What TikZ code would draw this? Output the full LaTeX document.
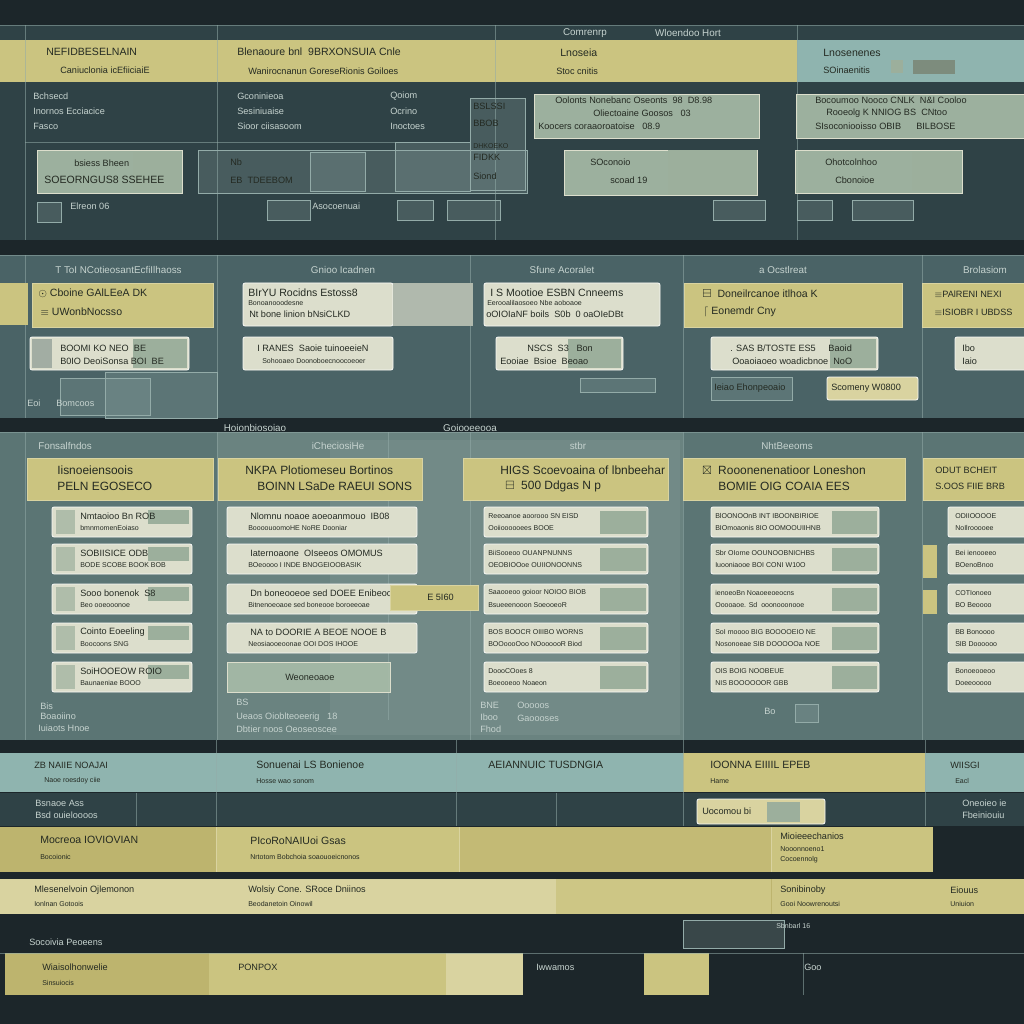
\documentclass[tikz,border=0pt]{standalone}
\usepackage{amssymb}
\usepackage{fontspec}
\setmainfont{Liberation Sans}
\definecolor{bgdark}{HTML}{1C262A}
\definecolor{panelA}{HTML}{2F4246}
\definecolor{panelB}{HTML}{4A6366}
\definecolor{panelC}{HTML}{5B7574}
\definecolor{panelCc}{HTML}{6A8380}
\definecolor{ygold}{HTML}{CBC480}
\definecolor{yolive}{HTML}{BDB46E}
\definecolor{ylight}{HTML}{D9D3A0}
\definecolor{tealbar}{HTML}{8FB4AF}
\definecolor{cream}{HTML}{DCDECC}
\definecolor{greenbox}{HTML}{A8BCA8}
\definecolor{gblock}{HTML}{9CAF9C}
\definecolor{gridline}{HTML}{93ABA8}
\definecolor{txtdark}{HTML}{242A22}
\definecolor{txtlight}{HTML}{C6D3CF}
\tikzset{
  hdr/.style={font=\fontsize{7.5}{8}\selectfont, text=txtdark, anchor=west, inner sep=0pt},
  bighdr/.style={hdr, font=\fontsize{8.5}{9}\selectfont},
  sub/.style={font=\fontsize{6.5}{7}\selectfont, text=txtdark, anchor=west, inner sep=0pt},
  tiny/.style={font=\fontsize{5}{6}\selectfont, text=txtdark, anchor=west, inner sep=0pt},
  lab/.style={font=\fontsize{6.5}{7}\selectfont, text=txtlight, anchor=west, inner sep=0pt},
  ttl/.style={font=\fontsize{7}{8}\selectfont, text=txtlight, inner sep=0pt},
  gline/.style={draw=gridline, opacity=.55, line width=.5pt},
  ybox/.style={fill=ygold, draw=ylight, line width=.6pt},
  cbox/.style={fill=cream, draw=white!80!cream, rounded corners=1.5pt, line width=.6pt},
  gbox/.style={fill=greenbox, draw=cream, line width=.6pt, fill opacity=.9},
  ghost/.style={draw=gridline, fill=gridline, fill opacity=.25, line width=.5pt}
}
\begin{document}
\begin{tikzpicture}[x=0.25mm, y=-0.25mm]
\useasboundingbox (0,0) rectangle (1024,1024);
\fill[bgdark] (0,0) rectangle (1024,1024);

% ---- row 1
\fill[panelA] (0,25) rectangle (1024,240);
\fill[ygold] (0,40) rectangle (797,82);
\fill[tealbar] (797,40) rectangle (1024,82);
\draw[gline] (0,25) -- (1024,25);
\foreach \x in {25,217,495,797} \draw[gline] (\x,25) -- (\x,240);
\draw[gline] (25,142) -- (470,142);
\node[ttl] at (585,33) {Comrenrp};
\node[ttl] at (688,33) {Wloendoo Hort};
\node[hdr] at (46,52) {NEFIDBESELNAIN};
\node[sub] at (60,70) {Caniuclonia icEfiiciaiE};
\node[hdr] at (237,52) {Blenaoure bnl\ \ 9BRXONSUIA Cnle};
\node[sub] at (248,71) {Wanirocnanun GoreseRionis Goiloes};
\node[hdr] at (560,53) {Lnoseia};
\node[sub] at (556,71) {Stoc cnitis};
\node[hdr] at (823,53) {Lnosenenes};
\node[sub] at (823,70) {SOinaenitis};
\fill[gblock] (891,60) rectangle (903,73);
\fill[gblock!80!black] (913,60) rectangle (955,74);
\node[lab] at (33,96) {Bchsecd};
\node[lab] at (33,111) {Inornos Ecciacice};
\node[lab] at (33,126) {Fasco};
\node[lab] at (237,96) {Gconinieoa};
\node[lab] at (237,111) {Sesiniuaise};
\node[lab] at (237,126) {Sioor ciisasoom};
\node[lab] at (390,96) {Qoiom};
\node[lab] at (390,111) {Ocrino};
\node[lab] at (390,126) {Inoctoes};
\draw[gbox] (37,150) rectangle (182,193);
\fill[gblock] (133,152) rectangle (180,191);
\node[sub] at (74,163) {bsiess Bheen};
\node[hdr] at (44,180) {SOEORNGUS8\ SSEHEE};
\draw[ghost] (198,150) rectangle (527,193);
\draw[ghost] (310,152) rectangle (365,191);
\draw[ghost] (395,142) rectangle (470,191);
\node[sub] at (230,162) {Nb};
\node[sub] at (230,180) {EB\ \ TDEEBOM};
\draw[ghost] (470,98) rectangle (525,190);
\node[sub] at (473,106) {BSLSSI};
\node[sub] at (473,123) {BBOB};
\node[tiny] at (473,146) {DHKOEKO};
\node[sub] at (473,157) {FIDKK};
\node[sub] at (473,176) {Siond};
\draw[gbox] (534,94) rectangle (759,138);
\node[sub] at (555,100) {Oolonts Nonebanc Oseonts\ \ 98\ \ D8.98};
\node[sub] at (593,113) {Oliectoaine Goosos\ \ \ 03};
\node[sub] at (538,126) {Koocers coraaoroatoise\ \ \ 08.9};
\draw[gbox] (796,94) rectangle (1024,138);
\node[sub] at (815,100) {Bocoumoo Nooco CNLK\ \ N\&I\ Cooloo};
\node[sub] at (826,113) {Rooeolg K NNIOG BS\ \ CNtoo};
\node[sub] at (815,126) {SIsoconiooisso OBIB\ \ \ \ \ \ BILBOSE};
\draw[gbox] (564,150) rectangle (757,195);
\fill[gblock] (668,150) rectangle (757,195);
\node[sub] at (590,162) {SOconoio};
\node[sub] at (610,180) {scoad 19};
\draw[gbox] (795,150) rectangle (962,193);
\fill[gblock] (912,152) rectangle (960,191);
\node[sub] at (825,162) {Ohotcolnhoo};
\node[sub] at (835,180) {Cbonoioe};
\draw[ghost] (37,202) rectangle (61,222);
\node[lab] at (70,206) {Elreon 06};
\draw[ghost] (267,200) rectangle (310,220);
\node[lab] at (312,206) {Asocoenuai};
\draw[ghost] (397,200) rectangle (433,220);
\draw[ghost] (447,200) rectangle (500,220);
\draw[ghost] (713,200) rectangle (765,220);
\draw[ghost] (797,200) rectangle (832,220);
\draw[ghost] (852,200) rectangle (913,220);

% ---- row 2
\fill[panelB] (0,255) rectangle (1024,418);
\foreach \x in {25,217,470,683,922} \draw[gline] (\x,255) -- (\x,418);
\draw[gline] (0,255) -- (1024,255);
\node[ttl, anchor=west] at (55,270) {T ToI NCotieosantEcfiIlhaoss};
\node[ttl] at (343,270) {Gnioo Icadnen};
\node[ttl] at (562,270) {Sfune Acoralet};
\node[ttl] at (783,270) {a Ocstlreat};
\node[ttl] at (985,270) {Brolasiom};
\fill[ygold] (0,283) rectangle (28,325);
\draw[ybox] (32,283) rectangle (213,327);
\node[hdr] at (38,293) {$\odot$ Cboine GAlLEeA DK};
\node[hdr] at (40,312) {$\equiv$ UWonbNocsso};
\draw[cbox] (243,283) rectangle (393,326);
\fill[cream!70!panelB] (393,283) rectangle (473,326);
\node[hdr] at (248,293) {BIrYU Rocidns Estoss8};
\node[tiny] at (248,303) {Bonoanooodesne};
\node[sub] at (249,314) {Nt bone linion bNsiCLKD};
\draw[cbox] (484,283) rectangle (660,326);
\node[hdr] at (490,293) {I S Mootioe ESBN Cnneems};
\node[tiny] at (487,303) {Eerooalilaosoeo Nbe aoboaoe};
\node[sub] at (486,314) {oOIOIaNF boils\ \ S0b\ \ 0 oaOIeDBt};
\draw[ybox] (684,283) rectangle (902,327);
\node[hdr] at (702,294) {$\boxminus$\ \ Doneilrcanoe itlhoa K};
\node[hdr] at (703,312) {$\lceil$\ Eonemdr Cny};
\draw[ybox] (922,283) rectangle (1030,327);
\node[sub] at (934,294) {$\equiv$PAlRENI NEXI};
\node[sub] at (934,312) {$\equiv$ISIOBR I UBDSS};
\draw[cbox] (30,337) rectangle (189,370);
\fill[cream!60!panelB] (32,339) rectangle (52,368);
\fill[gblock] (133,339) rectangle (187,368);
\node[sub] at (60,348) {BOOMI KO NEO\ \ BE};
\node[sub] at (60,361) {B0IO DeoiSonsa BOI\ \ BE};
\draw[cbox] (243,337) rectangle (393,370);
\node[sub] at (257,348) {I RANES\ \ Saoie tuinoeeieN};
\node[tiny] at (262,361) {Sohooaeo Doonoboecnoocoeoer};
\draw[cbox] (496,337) rectangle (623,370);
\fill[gblock] (568,339) rectangle (621,368);
\node[sub] at (527,348) {NSCS\ \ S3\ \ \ Bon};
\node[sub] at (500,361) {Eooiae\ \ Bsioe\ \ Beoao};
\draw[cbox] (711,337) rectangle (878,370);
\fill[gblock] (830,339) rectangle (876,368);
\node[sub] at (730,348) {. SAS B/TOSTE ES5\ \ \ \ \ Baoid};
\node[sub] at (732,361) {Ooaoiaoeo woadicbnoe\ \ NoO};
\draw[cbox] (955,337) rectangle (1030,370);
\node[sub] at (962,348) {Ibo};
\node[sub] at (962,361) {Iaio};
\draw[ghost] (711,377) rectangle (792,400);
\node[sub] at (714,388) {Ieiao Ehonpeoaio};
\draw[cbox, fill=ylight] (827,377) rectangle (918,400);
\node[sub] at (831,388) {Scomeny W0800};
\draw[ghost] (580,378) rectangle (655,392);
\draw[ghost] (60,378) rectangle (150,415);
\node[lab] at (27,403) {Eoi};
\node[lab] at (56,403) {Bomcoos};
\draw[ghost] (105,372) rectangle (217,418);

% ---- row 3
\fill[panelC] (0,432) rectangle (1024,740);
\fill[panelCc] (217,432) rectangle (683,740);
\fill[white, opacity=.06] (330,440) rectangle (680,735);
\foreach \x in {25,217,470,683,922} \draw[gline] (\x,432) -- (\x,740);
\draw[gline] (0,432) -- (1024,432);
\draw[gline] (388,432) -- (388,720);
\node[ttl, anchor=west] at (38,446) {Fonsalfndos};
\node[ttl] at (338,446) {iCheciosiHe};
\node[ttl] at (578,446) {stbr};
\node[ttl] at (787,446) {NhtBeeoms};
\node[ttl] at (255,428) {Hoionbiosoiao};
\node[ttl] at (470,428) {Goiooeeooa};
\draw[ybox] (27,458) rectangle (213,500);
\node[bighdr] at (57,470) {Iisnoeiensoois};
\node[bighdr] at (57,486) {PELN EGOSECO};
\draw[ybox] (218,458) rectangle (422,500);
\node[bighdr] at (245,470) {NKPA\ Plotiomeseu Bortinos};
\node[bighdr] at (257,486) {BOINN LSaDe RAEUI SONS};
\draw[ybox] (463,458) rectangle (668,500);
\node[bighdr] at (500,470) {HIGS Scoevoaina of lbnbeehar};
\node[bighdr] at (505,486) {$\boxminus$\ \ 500 Ddgas N p};
\draw[ybox] (683,458) rectangle (905,500);
\node[bighdr] at (702,470) {$\boxtimes$\ \ Rooonenenatioor Loneshon};
\node[bighdr] at (718,486) {BOMIE OIG COAIA EES};
\draw[ybox] (923,458) rectangle (1030,500);
\node[sub] at (935,470) {ODUT BCHEIT};
\node[sub] at (935,486) {S.OOS FIIE BRB};
% cards
\foreach \y/\a/\b in {507/Nmtaoioo Bn ROB/bmnmomenEoiaso,
    544/SOBIISICE ODB/BODE SCOBE BOOK BOB,
    584/Sooo bonenok\ \ S8/Beo ooeooonoe,
    623/Cointo Eoeeling/Boocoons SNG,
    662/SoiHOOEOW ROIO/Baunaeniae BOOO} {
  \draw[cbox] (52,\y) rectangle (192,\y+30);
  \fill[gblock] (148,\y+3) rectangle (189,\y+17);
  \fill[gblock!70!cream] (56,\y+3) rectangle (75,\y+27);
  \node[sub] at (80,\y+9) {\a};
  \node[tiny] at (80,\y+21) {\b};
}
\foreach \y/\a/\b in {507/Nlomnu noaoe aoeoanmouo\ \ IB08/BoooouoomoHE NoRE Dooniar,
    544/Iaternoaone\ \ OIseeos OMOMUS/BOeoooo I INDE BNOGEIOOBASIK,
    584/Dn boneooeoe sed DOEE Enibeoo/Bitnenoeoaoe sed boneooe boroeeoae,
    623/NA to DOORIE A BEOE NOOE B/Neosiaooeoonae OOI DOS IHOOE} {
  \draw[cbox] (227,\y) rectangle (417,\y+30);
  \node[sub] at (250,\y+9) {\a};
  \node[tiny] at (248,\y+21) {\b};
}
\draw[gbox] (227,662) rectangle (390,692);
\node[sub] at (285,677) {Weoneoaoe};
\draw[ybox] (390,585) rectangle (478,610);
\node[sub] at (427,597) {E 5I60};
\foreach \y/\a/\b in {507/Reeoanoe aoorooo SN EISD/Ooiioooooees BOOE,
    544/BiiSooeoo OUANPNUNNS/OEOBIOOoe OUIIONOONNS,
    584/Saaooeoo goioor NOIOO BIOB/Bsueeenooon SoeooeoR,
    623/BOS BOOCR OIIIBO WORNS/BOOoooOoo NOoooooR Biod,
    662/DoooCOoes 8/Boeooeoo Noaeon} {
  \draw[cbox] (484,\y) rectangle (648,\y+30);
  \fill[gblock] (600,\y+4) rectangle (646,\y+27);
  \node[tiny] at (488,\y+9) {\a};
  \node[tiny] at (488,\y+21) {\b};
}
\foreach \y/\a/\b in {507/BlOONOOnB INT IBOONBIRIOE/BIOmoaonis 8IO OOMOOUIIHNB,
    544/Sbr OIorne OOUNOOBNICHBS/Iuooniaooe BOI CONI W10O,
    584/ienoeoBn Noaoeeoeocns/Ooooaoe. Sd\ \ ooonooonooe,
    623/SoI moooo BIG BOOOOEIO NE/Nosonoeae SIB DOOOOOa NOE,
    662/OIS BOIG NOOBEUE/NIS BOOOOOOR GBB} {
  \draw[cbox] (711,\y) rectangle (879,\y+30);
  \fill[gblock] (832,\y+4) rectangle (877,\y+27);
  \node[tiny] at (715,\y+9) {\a};
  \node[tiny] at (715,\y+21) {\b};
}
\foreach \y/\a/\b in {507/ODIIOOOOE/NoIlrooooee,
    544/Bei ienooeeo/BOenoBnoo,
    584/COTIonoeo/BO Beoooo,
    623/BB Bonoooo/SIB Doooooo,
    662/Bonoeooeoo/Doeeooooo} {
  \draw[cbox] (948,\y) rectangle (1030,\y+30);
  \node[tiny] at (955,\y+9) {\a};
  \node[tiny] at (955,\y+21) {\b};
}
\fill[ygold] (923,545) rectangle (937,578);
\fill[ygold] (923,590) rectangle (937,614);
\node[lab] at (40,706) {Bis};
\node[lab] at (40,716) {Boaoiino};
\node[lab] at (38,728) {Iuiaots Hnoe};
\node[lab] at (236,702) {BS};
\node[lab] at (236,717) {Ueaos Oioblteoeerig\ \ \ 18};
\node[lab] at (236,729) {Dbtier noos Oeoseoscee};
\node[lab] at (480,705) {BNE};
\node[lab] at (480,717) {Iboo};
\node[lab] at (480,729) {Fhod};
\node[lab] at (517,705) {Ooooos};
\node[lab] at (517,718) {Gaoooses};
\node[lab] at (764,711) {Bo};
\draw[ghost] (795,704) rectangle (818,722);

% ---- row 4
\fill[tealbar] (0,753) rectangle (683,792);
\fill[ygold] (683,753) rectangle (925,792);
\fill[tealbar] (925,753) rectangle (1024,792);
\fill[panelA] (0,793) rectangle (1024,826);
\foreach \x in {216,456,683,925} \draw[gline] (\x,740) -- (\x,826);
\draw[gline] (136,793) -- (136,826);
\draw[gline] (556,793) -- (556,826);
\node[sub] at (34,765) {ZB NAIIE NOAJAI};
\node[tiny] at (44,781) {Naoe roesdoy ciie};
\node[hdr] at (256,765) {Sonuenai LS Bonienoe};
\node[tiny] at (256,781) {Hosse wao sonom};
\node[hdr] at (488,765) {AEIANNUIC TUSDNGIA};
\node[hdr] at (710,765) {IOONNA EIIIIL EPEB};
\node[tiny] at (710,781) {Hame};
\node[sub] at (950,765) {WIISGI};
\node[tiny] at (955,781) {Eacl};
\node[lab] at (35,803) {Bsnaoe Ass};
\node[lab] at (35,815) {Bsd ouieloooos};
\node[lab] at (962,803) {Oneoieo ie};
\node[lab] at (962,815) {Fbeiniouiu};
\draw[cbox, fill=ylight] (697,799) rectangle (825,824);
\fill[gblock] (767,802) rectangle (800,822);
\node[sub] at (702,811) {Uocomou bi};
% yellow band
\fill[ygold] (0,827) rectangle (933,872);
\fill[yolive] (0,827) rectangle (216,872);
\fill[yolive!60!ygold] (459,827) rectangle (771,872);
\foreach \x in {216,459,771} \draw[ylight, line width=.5pt] (\x,827) -- (\x,872);
\node[hdr] at (40,840) {Mocreoa IOVIOVIAN};
\node[tiny] at (40,857) {Bocoionic};
\node[hdr] at (250,841) {PIcoRoNAIUoi Gsas};
\node[tiny] at (250,857) {Nrtotom Bobchoia soaouoeicnonos};
\node[sub] at (780,836) {Mioieeechanios};
\node[tiny] at (780,849) {Nooonnoeno1};
\node[tiny] at (780,860) {Cocoennolg};
% cream band
\fill[ylight] (0,879) rectangle (1024,914);
\fill[ygold!85!ylight] (556,879) rectangle (1024,914);
\draw[yolive, line width=.5pt] (771,879) -- (771,914);
\node[sub] at (34,890) {Mlesenelvoin Ojlemonon};
\node[tiny] at (34,904) {Ionlnan Gotoois};
\node[sub] at (248,890) {Wolsiy Cone. SRoce Dniinos};
\node[tiny] at (248,904) {Beodanetoin Oinowil};
\node[sub] at (780,890) {Sonibinoby};
\node[tiny] at (780,904) {Gooi Noowrenoutsi};
\node[sub] at (950,890) {Eiouus};
\node[tiny] at (950,904) {Uniuion};
% bottom
\draw[ghost] (683,920) rectangle (784,948);
\node[lab, font=\fontsize{5}{6}\selectfont] at (776,926) {Sbnbarl 16};
\node[lab] at (29,942) {Socoivia Peoeens};
\fill[ygold] (5,953) rectangle (523,995);
\fill[yolive] (5,953) rectangle (209,995);
\fill[ylight] (446,953) rectangle (523,995);
\fill[ygold] (644,953) rectangle (709,995);
\draw[gline] (803,953) -- (803,995);
\draw[gline] (0,953) -- (1024,953);
\node[sub] at (42,967) {Wiaisolhonwelie};
\node[tiny] at (42,983) {Sinsuiocis};
\node[sub] at (238,967) {PONPOX};
\node[lab] at (536,967) {Iwwamos};
\node[lab] at (804,967) {Goo};
\end{tikzpicture}
\end{document}
